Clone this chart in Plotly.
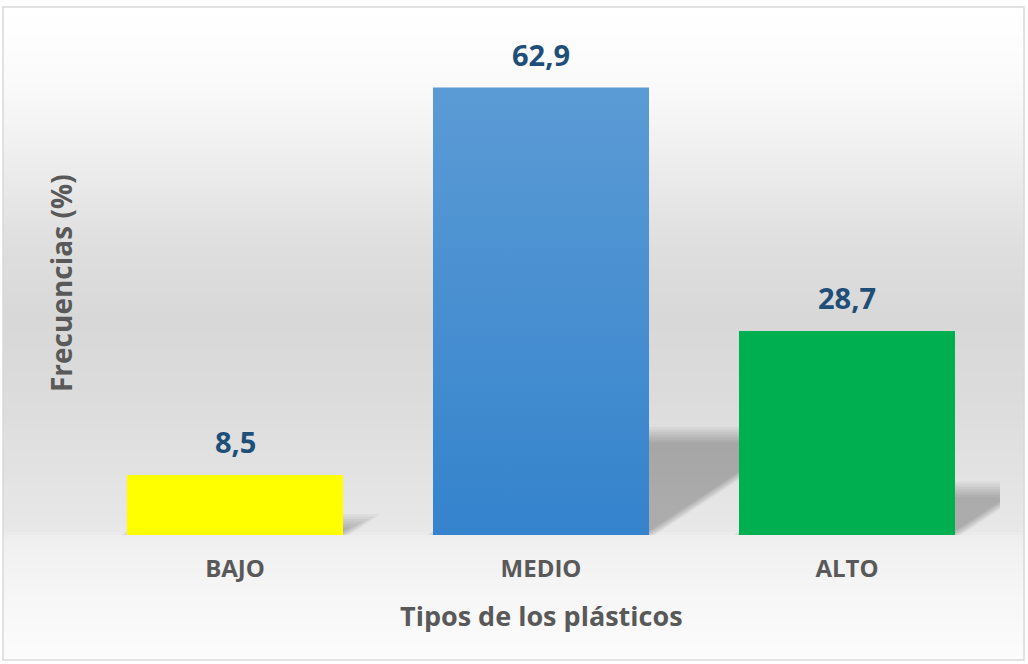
import numpy as np
import plotly.graph_objects as go

categories = ["BAJO", "MEDIO", "ALTO"]
values = [8.5, 62.9, 28.7]
bar_colors = ["#FFFF00", "#3483CC", "#00B050"]
x_title = "Tipos de los plásticos"
y_title = "Frecuencias (%)"

W, H = 1028, 664
L, R, T, B = 82, 28, 37, 129
PW, PH = W - L - R, H - T - B
YMAX = 70.0
BARW = 0.706
FONT = "Open Sans"


def xp(px):
    return (px - L) / PW


def yp(py):
    return (H - B - py) / PH


xs = list(range(len(categories)))
fig = go.Figure()

fig.add_trace(go.Bar(x=xs, y=values, width=BARW, marker=dict(color=bar_colors, line=dict(width=0)),
                     hoverinfo="skip", showlegend=False))

# gradient overlay for the middle bar
i = 1
fig.add_trace(go.Scatter(
    x=[xs[i] - BARW / 2, xs[i] + BARW / 2, xs[i] + BARW / 2, xs[i] - BARW / 2, xs[i] - BARW / 2],
    y=[0, 0, values[i], values[i], 0],
    mode="lines", line=dict(width=0), fill="toself",
    fillgradient=dict(type="vertical", colorscale=[[0, "#3483CC"], [1, "#5B9BD5"]]),
    hoverinfo="skip", showlegend=False))

shapes = []
# background gradient
stops_y = [7, 60, 120, 180, 250, 320, 400, 480, 530, 538, 600, 660]
stops_g = [255, 252, 245, 234, 222, 216, 220, 227, 232, 239, 247, 252]
for y0 in range(7, 660, 3):
    g = int(round(np.interp(y0 + 1.5, stops_y, stops_g)))
    shapes.append(dict(type="rect", xref="paper", yref="paper", layer="below",
                       x0=xp(3), x1=xp(1024), y0=yp(y0), y1=yp(min(y0 + 3, 660)),
                       fillcolor=f"rgb({g},{g},{g})", line=dict(width=0)))

# perspective shadows
upx_x = PW / len(categories)
upx_y = PH / YMAX
for xi, v in zip(xs, values):
    sh = v * 0.224
    for j in range(-3, 4):
        shj = sh + j * 2.5 / upx_y
        d = shj * upx_y / 0.66 / upx_x
        off = j * 2.0 / upx_x
        x0 = xi - BARW / 2 + off
        x1 = xi + BARW / 2 + off
        path = f"M {x0},0 L {x1},0 L {x1 + d},{shj} L {x0 + d},{shj} Z"
        shapes.append(dict(type="path", xref="x", yref="y", layer="below", path=path,
                           fillcolor="rgba(0,0,0,0.038)", line=dict(width=0)))

# outer border
shapes.append(dict(type="rect", xref="paper", yref="paper", layer="above",
                   x0=xp(3), x1=xp(1024), y0=yp(7), y1=yp(660),
                   line=dict(color="#D9D9D9", width=1.5), fillcolor="rgba(0,0,0,0)"))

annotations = []
for xi, v in zip(xs, values):
    annotations.append(dict(x=xi, y=v, xref="x", yref="y", text=f"{v:.1f}".replace(".", ","),
                            showarrow=False, yanchor="bottom", yshift=12,
                            font=dict(family=FONT, size=29, color="#1F4E79", weight=700)))
annotations.append(dict(x=xp(541), y=yp(615), xref="paper", yref="paper", text=x_title,
                        showarrow=False, xanchor="center", yanchor="middle",
                        font=dict(family=FONT, size=27, color="#595959", weight=700)))
annotations.append(dict(x=xp(61), y=yp(283), xref="paper", yref="paper", text=y_title,
                        showarrow=False, xanchor="center", yanchor="middle", textangle=-90,
                        font=dict(family=FONT, size=28, color="#595959", weight=700)))

fig.update_layout(
    width=W, height=H,
    margin=dict(l=L, r=R, t=T, b=B, pad=0),
    paper_bgcolor="white", plot_bgcolor="rgba(0,0,0,0)",
    shapes=shapes, annotations=annotations,
    bargap=0, showlegend=False,
    xaxis=dict(range=[-0.5, 2.5], tickvals=xs, ticktext=categories, showgrid=False, zeroline=False,
               showline=False, ticks="", ticklabelstandoff=17, fixedrange=True,
               tickfont=dict(family=FONT, size=24, color="#595959", weight=700)),
    yaxis=dict(range=[0, YMAX], showgrid=False, zeroline=False, showline=False,
               showticklabels=False, ticks="", fixedrange=True),
)

fig.write_html("out.html", config={"displayModeBar": False},
               post_script="document.body.style.margin='0';document.body.style.overflow='hidden';")
